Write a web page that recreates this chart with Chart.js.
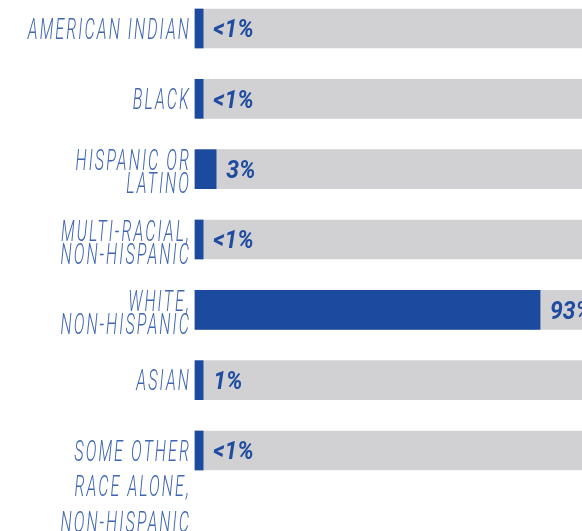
<!DOCTYPE html>
<html>
<head>
<meta charset="utf-8">
<script src="https://cdn.jsdelivr.net/npm/chart.js@4"></script>
<style>
  html,body{margin:0;padding:0;background:#fff;overflow:hidden;}
  #wrap{position:relative;width:582px;height:531px;}
</style>
</head>
<body>
<div id="wrap"><canvas id="race-chart"></canvas></div>
<script>
/* Race / ethnicity share — horizontal bars on grey tracks */
const categories=[
  ['AMERICAN INDIAN'],
  ['BLACK'],
  ['HISPANIC OR','LATINO'],
  ['MULTI-RACIAL,','NON-HISPANIC'],
  ['WHITE,','NON-HISPANIC'],
  ['ASIAN'],
  ['SOME OTHER','RACE ALONE,','NON-HISPANIC']
];
const shareLabels=['<1%','<1%','3%','<1%','93%','1%','<1%'];
// drawn bar lengths as they appear (small groups get a minimum stub)
const barLengths=[2.2,2.2,5.7,2.2,93,2.2,2.2];
const trackLengths=[104.3,104.3,104.3,104.3,104.3,104.3,104.3];
const xMax=104.3;

(function(){
  const BLUE='#1b4a9e',GREY='#d1d1d3',LABEL='#3f66b2',VALUE='#1f4ca0';
  // line placement for wrapped labels: [first line offset, step]
  const wrap={1:[0,0],2:[-9,23],3:[0,35.5]};

  const labelPlugin={
    id:'raceLabels',
    afterDatasetsDraw(chart){
      const ctx=chart.ctx,ys=chart.scales.y,xs=chart.scales.x,area=chart.chartArea;
      ctx.save();
      // category labels, condensed light italic with tracking
      const lf=29,lcap=0.711*lf;
      ctx.font='italic 300 '+lf+'px Roboto';
      ctx.letterSpacing='3.6px';
      ctx.fillStyle=LABEL;ctx.textAlign='right';ctx.textBaseline='alphabetic';
      categories.forEach(function(lines,i){
        const yc=ys.getPixelForValue(i);const w=wrap[lines.length];
        lines.forEach(function(t,k){
          const y=yc+w[0]+k*w[1]+lcap/2;
          ctx.save();ctx.translate(area.left-4,y);ctx.scale(0.56,1);ctx.fillText(t,0,0);ctx.restore();
        });
      });
      // value labels, bold italic
      ctx.letterSpacing='0px';
      const vf=25,vcap=0.711*vf;
      ctx.font='italic 700 '+vf+'px Roboto';
      ctx.fillStyle=VALUE;ctx.textAlign='left';
      shareLabels.forEach(function(t,i){
        const x=xs.getPixelForValue(barLengths[i])+10;const y=ys.getPixelForValue(i)+vcap/2;
        ctx.save();ctx.translate(x,y);ctx.scale(0.92,1);ctx.fillText(t,0,0);ctx.restore();
      });
      ctx.restore();
    }
  };

  function init(){
    const el=document.getElementById('race-chart');
    new Chart(el,{
      type:'bar',
      data:{labels:categories.map(function(l){return l.join(' ');}),datasets:[
        {label:'share',data:barLengths,backgroundColor:BLUE,barThickness:39,clip:false,grouped:false},
        {label:'track',data:trackLengths,backgroundColor:GREY,barThickness:39,clip:false,grouped:false}
      ]},
      options:{
        indexAxis:'y',responsive:true,maintainAspectRatio:false,animation:false,
        layout:{padding:{left:195,right:0,top:28.5,bottom:80.5}},
        scales:{
          x:{display:false,min:0,max:xMax},
          y:{display:false,offset:false}
        },
        plugins:{legend:{display:false},tooltip:{enabled:false}}
      },
      plugins:[labelPlugin]
    });
  }
  document.addEventListener('DOMContentLoaded',init);
})();
</script>
</body>
</html>
